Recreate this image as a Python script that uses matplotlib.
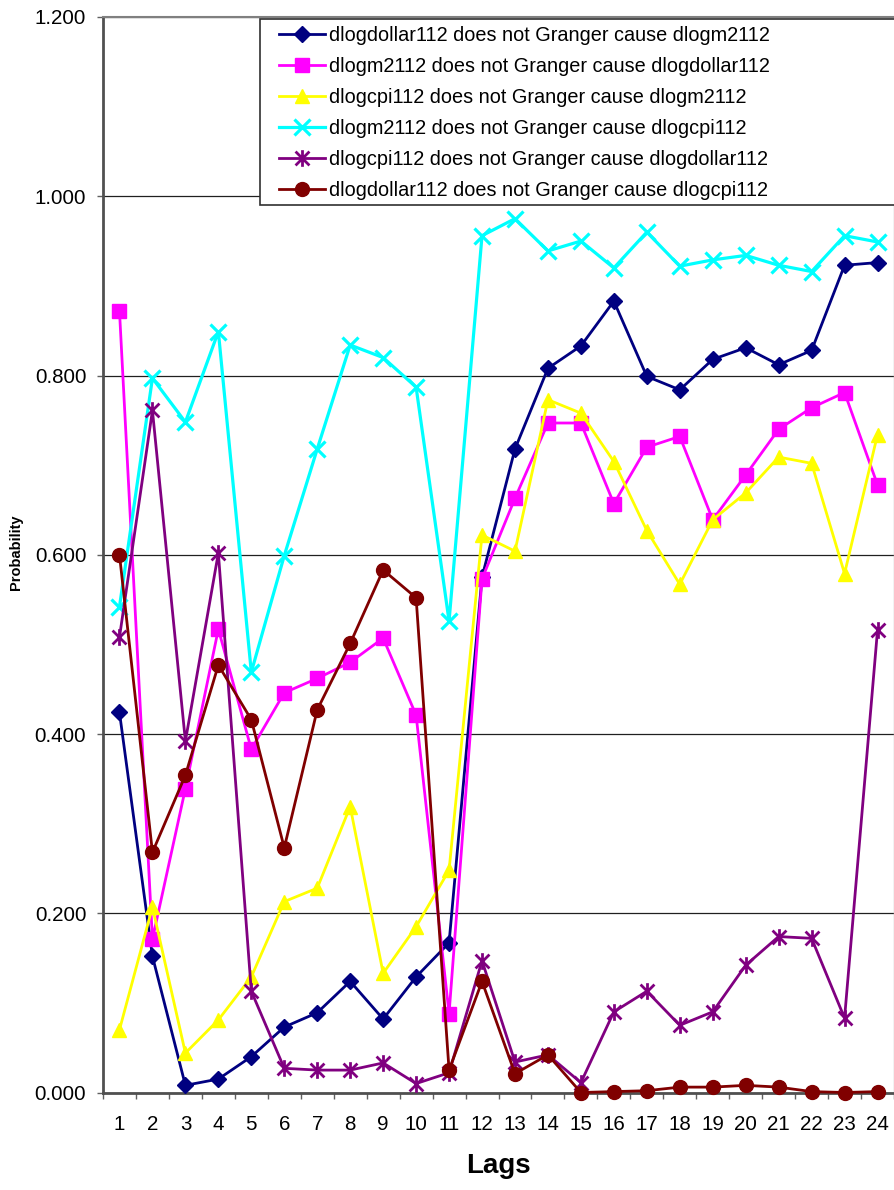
import matplotlib
matplotlib.use('Agg')
import matplotlib.pyplot as plt
from matplotlib.path import Path
from matplotlib.patches import Rectangle

plt.rcParams['font.family'] = ['Liberation Sans', 'DejaVu Sans']

lags = list(range(1, 25))
labels = [
    'dlogdollar112 does not Granger cause dlogm2112',
    'dlogm2112 does not Granger cause dlogdollar112',
    'dlogcpi112 does not Granger cause dlogm2112',
    'dlogm2112 does not Granger cause dlogcpi112',
    'dlogcpi112 does not Granger cause dlogdollar112',
    'dlogdollar112 does not Granger cause dlogcpi112',
]
dollar_m2 = [0.424, 0.152, 0.008, 0.015, 0.040, 0.073, 0.089, 0.124, 0.082, 0.129, 0.167, 0.575,
             0.718, 0.808, 0.833, 0.883, 0.799, 0.784, 0.818, 0.831, 0.812, 0.828, 0.923, 0.926]
m2_dollar = [0.872, 0.171, 0.339, 0.517, 0.383, 0.446, 0.462, 0.480, 0.507, 0.421, 0.088, 0.573,
             0.663, 0.747, 0.747, 0.657, 0.720, 0.732, 0.639, 0.689, 0.740, 0.764, 0.781, 0.678]
cpi_m2 = [0.070, 0.207, 0.044, 0.081, 0.129, 0.213, 0.228, 0.319, 0.133, 0.185, 0.248, 0.622,
          0.604, 0.773, 0.758, 0.704, 0.627, 0.567, 0.639, 0.669, 0.709, 0.702, 0.579, 0.734]
m2_cpi = [0.542, 0.797, 0.748, 0.849, 0.469, 0.599, 0.718, 0.834, 0.820, 0.787, 0.526, 0.956,
          0.975, 0.939, 0.950, 0.920, 0.960, 0.922, 0.929, 0.934, 0.923, 0.916, 0.956, 0.949]
cpi_dollar = [0.508, 0.761, 0.392, 0.602, 0.113, 0.027, 0.025, 0.025, 0.033, 0.010, 0.022, 0.147,
              0.034, 0.042, 0.011, 0.090, 0.113, 0.075, 0.090, 0.142, 0.174, 0.172, 0.083, 0.516]
dollar_cpi = [0.600, 0.268, 0.354, 0.477, 0.416, 0.273, 0.427, 0.501, 0.583, 0.552, 0.025, 0.124,
              0.021, 0.042, 0.000, 0.001, 0.002, 0.006, 0.006, 0.008, 0.006, 0.001, 0.000, 0.001]
yticks = [0.0, 0.2, 0.4, 0.6, 0.8, 1.0, 1.2]

W, H = 894, 1190
fig = plt.figure(figsize=(W / 100, H / 100), dpi=100)
ax = fig.add_axes([103 / W, 1 - 1092.5 / H, (894 - 103) / W, (1092.5 - 17) / H])

aster = Path([(-1, -1), (1, 1), (-1, 1), (1, -1), (0, -1.2), (0, 1.2)],
             [Path.MOVETO, Path.LINETO, Path.MOVETO, Path.LINETO, Path.MOVETO, Path.LINETO])

styles = [
    dict(color='#000080', marker='D', ms=8, lw=2.0),
    dict(color='#FF00FF', marker='s', ms=10, lw=2.0),
    dict(color='#FFFF00', marker='^', ms=10, lw=2.0),
    dict(color='#00FFFF', marker='x', ms=12, lw=2.3, mew=2.3),
    dict(color='#800080', marker=aster, ms=12, lw=2.0, mew=2.0),
    dict(color='#800000', marker='o', ms=10, lw=2.0),
]
series = [dollar_m2, m2_dollar, cpi_m2, m2_cpi, cpi_dollar, dollar_cpi]
handles = []
for vals, st, lab in zip(series, styles, labels):
    h, = ax.plot(lags, vals, color=st['color'], marker=st['marker'], markersize=st['ms'],
                 linewidth=st['lw'], markeredgewidth=st.get('mew', 1.0),
                 markerfacecolor=st['color'], markeredgecolor=st['color'],
                 label=lab, clip_on=False, zorder=3)
    handles.append(h)

ax.set_xlim(0.5, 24.5)
ax.set_ylim(0, 1.2)
ax.set_yticks(yticks)
ax.set_yticklabels([f'{v:.3f}' for v in yticks])
ax.set_xticks(lags)
ax.set_xticklabels([str(l) for l in lags])
ax.set_xticks([l + 0.5 for l in range(0, 25)], minor=True)
ax.tick_params(axis='y', which='major', length=4.5, width=1, color='#606060', pad=7.5,
               labelsize=14.8, direction='out')
ax.tick_params(axis='x', which='major', length=0, pad=16, labelsize=14.8)
ax.tick_params(axis='x', which='minor', length=4.5, width=1, color='#606060', direction='out')
ax.grid(axis='y', color='#202020', linewidth=0.9)
ax.set_axisbelow(True)
for side in ['left', 'bottom']:
    ax.spines[side].set_color('#505050')
    ax.spines[side].set_linewidth(2.0)
ax.spines['top'].set_color('#808080')
ax.spines['top'].set_linewidth(1.5)
ax.spines['right'].set_color('#c0c0c0')
ax.spines['right'].set_linewidth(1.0)

fig.text(498.5 / W, 1 - 1166 / H, 'Lags', ha='center', va='center', fontsize=20, fontweight='bold')
fig.text(16 / W, 1 - 552 / H, 'Probability', ha='center', va='center', rotation=90,
         fontsize=10.5, fontweight='bold')

leg = ax.legend(handles=handles, loc='upper left', bbox_to_anchor=(275 / W, 1 - 22 / H),
                bbox_transform=fig.transFigure, frameon=False, fontsize=14.3, numpoints=1,
                handlelength=2.3, handletextpad=0.2, labelspacing=0.6, borderpad=0.2,
                borderaxespad=0)
leg.set_zorder(10)
rect = Rectangle((260 / W, 1 - 205 / H), (W - 258) / W, (205 - 19) / H, transform=fig.transFigure,
                 facecolor='white', edgecolor='#303030', linewidth=1.2, zorder=9)
fig.patches.append(rect)
leg.remove()
fig.legends.append(leg)
leg.set_figure(fig)

fig.savefig('out.png', dpi=100)
